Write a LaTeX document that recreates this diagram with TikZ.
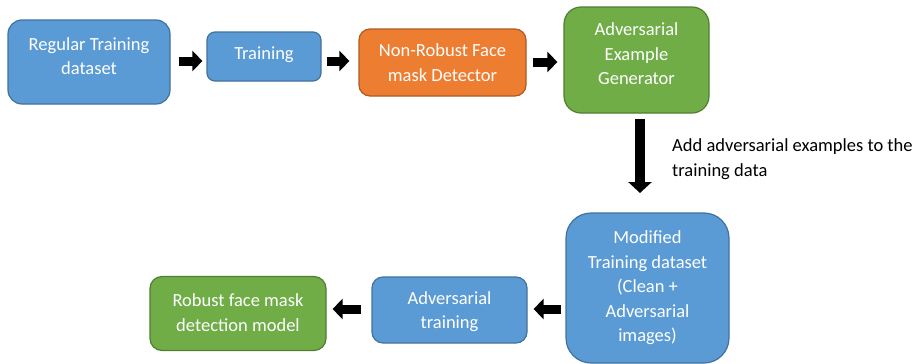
\documentclass[tikz,border=0pt]{standalone}
\usepackage{fontspec}
\setmainfont{Carlito}
\usetikzlibrary{arrows.meta}
\definecolor{bfill}{HTML}{5B9BD5}
\definecolor{bdraw}{HTML}{41719C}
\definecolor{ofill}{HTML}{ED7D31}
\definecolor{odraw}{HTML}{AE5A21}
\definecolor{gfill}{HTML}{70AD47}
\definecolor{gdraw}{HTML}{507E32}
\tikzset{
  box/.style={draw, line width=1.2pt, text=white, align=center, inner sep=2pt,
    font=\fontsize{18.5}{24.5}\selectfont},
  bluebox/.style={box, fill=bfill, draw=bdraw},
  orangebox/.style={box, fill=ofill, draw=odraw},
  greenbox/.style={box, fill=gfill, draw=gdraw},
  boxtext/.style={text=white, align=center, inner sep=0pt, font=\fontsize{18.5}{24.5}\selectfont},
  blockarrow/.style={line width=9pt, -{Triangle[length=10pt 0 0, width=20pt 0 0]}},
  downarrow/.style={line width=10pt, -{Triangle[length=11pt 0 0, width=23pt 0 0]}},
  note/.style={align=left, anchor=north west, inner sep=0pt, font=\fontsize{18.5}{25}\selectfont}
}
\begin{document}
\begin{tikzpicture}[x=1pt,y=-1pt]
\useasboundingbox (0,0) rectangle (919,364);
% top row
\node[bluebox, minimum width=162pt, minimum height=84pt, rounded corners=14pt] (n1) at (89,62) {};
\node[boxtext] (n1t) at ([yshift=6pt]n1.center) {Regular Training\\dataset};
\node[bluebox, minimum width=114pt, minimum height=49pt, rounded corners=8pt] (n2) at (264,56.5) {};
\node[boxtext] (n2t) at ([yshift=2pt]n2.center) {Training};
\node[orangebox, minimum width=167pt, minimum height=67pt, rounded corners=11pt] (n3) at (442.5,62.5) {Non-Robust Face\\mask Detector};
\node[greenbox, minimum width=145pt, minimum height=106pt, rounded corners=17pt] (n4) at (636.5,60) {};
\node[boxtext] (n4t) at ([yshift=6pt]n4.center) {Adversarial\\Example\\Generator};
% bottom row
\node[bluebox, minimum width=163pt, minimum height=150pt, rounded corners=25pt] (n5) at (647.5,288) {Modified\\Training dataset\\(Clean +\\Adversarial\\images)};
\node[bluebox, minimum width=155pt, minimum height=66pt, rounded corners=11pt] (n6) at (449.5,310) {};
\node[boxtext] (n6t) at ([yshift=-1.5pt]n6.center) {Adversarial\\training};
\node[greenbox, minimum width=176pt, minimum height=74pt, rounded corners=12pt] (n7) at (238,313.5) {};
\node[boxtext] (n7t) at ([yshift=1pt]n7.center) {Robust face mask\\detection model};
% arrows top
\draw[blockarrow, shorten <=8pt, shorten >=4pt] (n1.east |- 0,61) -- (n2.west |- 0,61);
\draw[blockarrow, shorten <=5pt, shorten >=9pt] (n2.east |- 0,61) -- (n3.west |- 0,61);
\draw[blockarrow, shorten <=6pt, shorten >=6pt] (n3.east |- 0,62) -- (n4.west |- 0,62);
% down arrow
\coordinate (dtop) at (640,119);
\coordinate (dbot) at (640,193);
\draw[downarrow] (dtop) -- (dbot);
\node[note] (lab) at (672,138) {Add adversarial examples to the\\training data};
% arrows bottom
\draw[blockarrow, shorten <=4pt, shorten >=6pt] (n5.west |- 0,309) -- (n6.east |- 0,309);
\draw[blockarrow, shorten <=10pt, shorten >=6pt] (n6.west |- 0,309) -- (n7.east |- 0,309);
\end{tikzpicture}
\end{document}
